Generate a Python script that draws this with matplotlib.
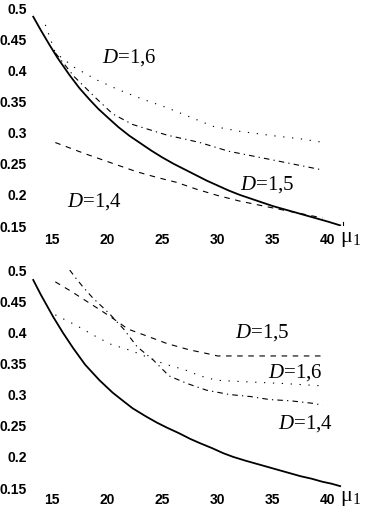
import matplotlib
matplotlib.use("Agg")
import matplotlib.pyplot as plt

# ---------------- data ----------------
x_ticks = [15, 20, 25, 30, 35, 40]
y_ticks = [0.15, 0.2, 0.25, 0.3, 0.35, 0.4, 0.45, 0.5]
y_tick_labels = ["0.15", "0.2", "0.25", "0.3", "0.35", "0.4", "0.45", "0.5"]

# top panel
top_solid_x = [13.3, 14.0, 14.8, 15.5, 16.6, 17.5, 18.4, 19.2, 20.0, 21.0, 22.0, 23.0, 24.0, 25.0,
               26.0, 27.0, 28.0, 29.0, 30.0, 31.0, 32.0, 33.0, 34.0, 35.0, 36.0, 37.0, 38.0,
               39.0, 40.0, 41.1]
top_solid_y = [0.486, 0.464, 0.440, 0.420, 0.392, 0.371, 0.353, 0.338, 0.325, 0.309, 0.295, 0.283,
               0.271, 0.260, 0.250, 0.241, 0.232, 0.223, 0.215, 0.207, 0.200, 0.194, 0.188, 0.182,
               0.177, 0.172, 0.167, 0.162, 0.157, 0.151]
top_d16_x = [14.4, 15.3, 17.0, 19.0, 21.0, 23.0, 25.4, 27.5, 29.6, 32.0, 35.0, 37.5, 39.3]
top_d16_y = [0.473, 0.428, 0.405, 0.385, 0.369, 0.355, 0.340, 0.325, 0.310, 0.302, 0.295, 0.290, 0.285]
top_d15_x = [15.3, 17.0, 19.0, 20.5, 22.3, 25.4, 28.4, 31.0, 35.0, 39.5]
top_d15_y = [0.428, 0.390, 0.355, 0.330, 0.313, 0.296, 0.284, 0.270, 0.256, 0.240]
top_d14_x = [15.3, 18.0, 20.9, 22.7, 24.5, 26.3, 28.1, 30.0, 32.0, 35.0, 37.5, 39.5]
top_d14_y = [0.284, 0.266, 0.248, 0.237, 0.228, 0.220, 0.209, 0.199, 0.190, 0.179, 0.170, 0.163]

# bottom panel
bot_solid_x = [13.3, 14.0, 15.1, 16.0, 16.9, 18.0, 19.3, 20.5, 21.5, 22.3, 23.5, 24.5, 25.4, 26.5,
               27.5, 28.4, 29.5, 30.5, 31.4, 32.5, 33.5, 34.5, 35.5, 36.5, 37.5, 38.5, 39.5,
               40.3, 41.1]
bot_solid_y = [0.484, 0.460, 0.425, 0.399, 0.375, 0.348, 0.323, 0.303, 0.289, 0.278, 0.265, 0.255,
               0.247, 0.238, 0.229, 0.222, 0.214, 0.206, 0.200, 0.194, 0.189, 0.184, 0.179, 0.174,
               0.169, 0.165, 0.160, 0.157, 0.153]
bot_d15_x = [15.3, 16.9, 17.5, 19.0, 20.3, 21.9, 23.6, 25.4, 27.4, 29.0, 30.0, 35.0, 39.5]
bot_d15_y = [0.481, 0.464, 0.457, 0.440, 0.425, 0.405, 0.394, 0.382, 0.372, 0.366, 0.362, 0.362, 0.362]
bot_d16_x = [15.3, 17.1, 19.0, 20.3, 22.1, 25.2, 27.0, 28.4, 29.9, 32.0, 35.7, 39.5]
bot_d16_y = [0.428, 0.412, 0.393, 0.381, 0.371, 0.349, 0.340, 0.330, 0.323, 0.321, 0.318, 0.314]
bot_d14_x = [16.6, 17.2, 17.8, 18.7, 19.6, 20.3, 21.5, 22.7, 24.2, 25.6, 27.2, 29.0, 31.1, 32.9, 34.7, 36.6, 38.6, 39.5]
bot_d14_y = [0.500, 0.486, 0.473, 0.455, 0.440, 0.428, 0.405, 0.377, 0.355, 0.330, 0.318, 0.307, 0.300, 0.297, 0.292, 0.290, 0.286, 0.283]

top_labels = [("1,6", 19.53, 0.412), ("1,5", 32.03, 0.208), ("1,4", 16.36, 0.181)]
bot_labels = [("1,5", 31.58, 0.391), ("1,6", 34.57, 0.327), ("1,4", 35.47, 0.246)]

# ---------------- style ----------------
plt.rcParams["mathtext.fontset"] = "custom"
plt.rcParams["mathtext.rm"] = "Liberation Serif"
plt.rcParams["mathtext.it"] = "Liberation Serif:italic"
plt.rcParams["lines.scale_dashes"] = False

DOT = (0, (0.9, 5.5))
DASH = (0, (4, 4))
DASHDOT = (0, (4, 3, 0.9, 3))

W, H = 365, 512
fig = plt.figure(figsize=(W / 100, H / 100), dpi=100)

XL = (15 + (31 - 52) / 11.04, 15 + (345 - 52) / 11.04)


def make_ax(top_px, bot_px, pad_x):
    ax = fig.add_axes([31 / W, 1 - bot_px / H, (345 - 31) / W, (bot_px - top_px) / H])
    ax.set_xlim(*XL)
    ax.set_ylim(0.15, 0.5)
    for s in ax.spines.values():
        s.set_visible(False)
    ax.set_xticks(x_ticks)
    ax.set_yticks(y_ticks)
    ax.set_yticklabels(y_tick_labels)
    ax.tick_params(length=0, labelsize=10)
    ax.tick_params(axis="y", pad=3)
    ax.tick_params(axis="x", pad=pad_x)
    for lab in ax.get_xticklabels() + ax.get_yticklabels():
        lab.set_fontfamily("Liberation Sans")
        lab.set_fontweight("bold")
    ax.patch.set_alpha(0)
    return ax


ax1 = make_ax(8, 226, 5)
ax2 = make_ax(270, 488, 3.5)

lw_solid = 1.3
lw = 0.8
ax1.plot(top_solid_x, top_solid_y, color="black", lw=lw_solid)
ax1.plot(top_d16_x, top_d16_y, color="black", lw=lw, linestyle=DOT)
ax1.plot(top_d15_x, top_d15_y, color="black", lw=lw, linestyle=DASHDOT)
ax1.plot(top_d14_x, top_d14_y, color="black", lw=lw, linestyle=DASH)
ax1.axvline(41.4, ymin=0, ymax=0.02, color="black", lw=0.8)

ax2.plot(bot_solid_x, bot_solid_y, color="black", lw=lw_solid)
ax2.plot(bot_d15_x, bot_d15_y, color="black", lw=lw, linestyle=DASH)
ax2.plot(bot_d16_x, bot_d16_y, color="black", lw=lw, linestyle=DOT)
ax2.plot(bot_d14_x, bot_d14_y, color="black", lw=lw, linestyle=DASHDOT)

for ax, labs in ((ax1, top_labels), (ax2, bot_labels)):
    for val, tx, ty in labs:
        ax.text(tx, ty, r"$D$=" + val, fontsize=15, family="Liberation Serif",
                ha="left", va="baseline")

for ytop in (230, 489):
    fig.text(340 / W, 1 - ytop / H, "μ$_{1}$", fontsize=16,
             family="Liberation Serif", ha="left", va="top")

fig.savefig("out.png", dpi=100)
